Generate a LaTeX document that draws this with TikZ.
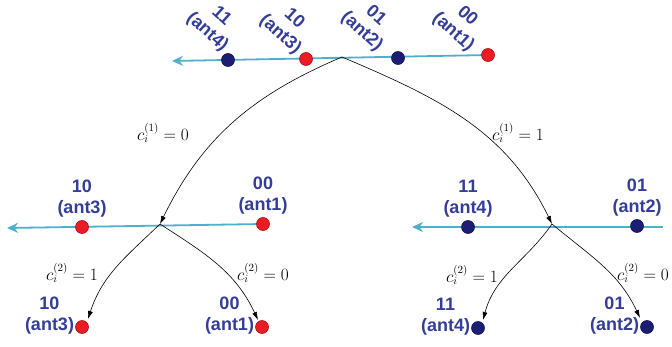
\documentclass[tikz,border=0pt]{standalone}
\usepackage{fontspec}
\setsansfont{Liberation Sans}
\usetikzlibrary{arrows.meta,positioning}
\definecolor{antblue}{RGB}{52,62,152}
\definecolor{antnavy}{RGB}{28,30,115}
\definecolor{antred}{RGB}{236,28,36}
\definecolor{axiscyan}{RGB}{78,176,204}
\begin{document}
\begin{tikzpicture}[x=1pt,y=1pt,dotred/.style={circle,draw=antred!70!black,fill=antred,minimum size=13pt,inner sep=0pt,line width=0.6pt},dotnavy/.style={circle,draw=antnavy!70!black,fill=antnavy,minimum size=13pt,inner sep=0pt,line width=0.6pt},lbl/.style={text=antblue,font=\sffamily\bfseries\fontsize{18}{21}\selectfont,align=center,inner sep=0pt},toplbl/.style={lbl,rotate=-42},axis/.style={axiscyan,line width=1.8pt,-{Stealth[length=11pt,width=10pt]}},arr/.style={black,line width=0.6pt,-{Latex[length=8pt,width=5pt]}},cond/.style={font=\fontsize{16}{18}\selectfont,inner sep=0pt}]
\useasboundingbox (0,0) rectangle (672,346);
% split points and axis ends
\coordinate (root) at (342,289);
\coordinate (lsplit) at (160,122);
\coordinate (rsplit) at (552,122);
\coordinate (ttip) at (172,285);
\coordinate (ltip) at (7,118);
\coordinate (rstart) at (663,119);
\coordinate (rtip) at (412,119);
\coordinate (tstart) at (488,291);
\coordinate (lstart) at (263,122);
% axes
\draw[axis] (tstart)--(ttip);
\draw[axis] (lstart)--(ltip);
\draw[axis] (rstart)--(rtip);
% branches
\draw[arr] (root) to[out=-157,in=64] (lsplit);
\draw[arr] (root) to[out=-23,in=116] (rsplit);
\draw[arr] (lsplit) to[out=-136,in=72] (88,27);
\draw[arr] (lsplit) to[out=-33,in=115] (258,26);
\draw[arr] (rsplit) to[out=-125,in=75] (483,26);
\draw[arr] (rsplit) to[out=-40,in=115] (640,28);
% top level
\node[dotred] (t1) at (tstart) {};
\node[dotnavy] (t2) at (398,288) {};
\node[dotred] (t3) at (306,287) {};
\node[dotnavy] (t4) at (228,286) {};
\node[toplbl] (tl1) at (460,321.5) {00\\(ant1)};
\node[toplbl] (tl2) at (368.5,322) {01\\(ant2)};
\node[toplbl] (tl3) at (287,319) {10\\(ant3)};
\node[toplbl] (tl4) at (214,321.5) {11\\(ant4)};
% middle level
\node[dotred] (m3) at (82,119) {};
\node[dotred] (m1) at (lstart) {};
\node[dotnavy] (m4) at (468,119) {};
\node[dotnavy] (m2) at (637,120) {};
\node[lbl,above=3pt of m3] (ml3) {10\\(ant3)};
\node[lbl,above=3pt of m1] (ml1) {00\\(ant1)};
\node[lbl,above=3pt of m4] (ml4) {11\\(ant4)};
\node[lbl,above=3pt of m2] (ml2) {01\\(ant2)};
% leaves
\node[dotred] (b3) at (82,19) {};
\node[dotred] (b1) at (262,19) {};
\node[dotnavy] (b4) at (478,18) {};
\node[dotnavy] (b2) at (647,19) {};
\node[lbl,left=1pt of b3,yshift=11pt] (bl3) {10\\(ant3)};
\node[lbl,left=1pt of b1,yshift=11pt] (bl1) {00\\(ant1)};
\node[lbl,left=1pt of b4,yshift=11pt] (bl4) {11\\(ant4)};
\node[lbl,left=1pt of b2,yshift=11pt] (bl2) {01\\(ant2)};
% conditions
\node[cond] (c10) at (163,213) {$c_i^{(1)}=0$};
\node[cond] (c11) at (518,213) {$c_i^{(1)}=1$};
\node[cond] (c21a) at (72,73) {$c_i^{(2)}=1$};
\node[cond] (c20a) at (263,73) {$c_i^{(2)}=0$};
\node[cond] (c21b) at (472,71) {$c_i^{(2)}=1$};
\node[cond] (c20b) at (643,73) {$c_i^{(2)}=0$};
\end{tikzpicture}
\end{document}
